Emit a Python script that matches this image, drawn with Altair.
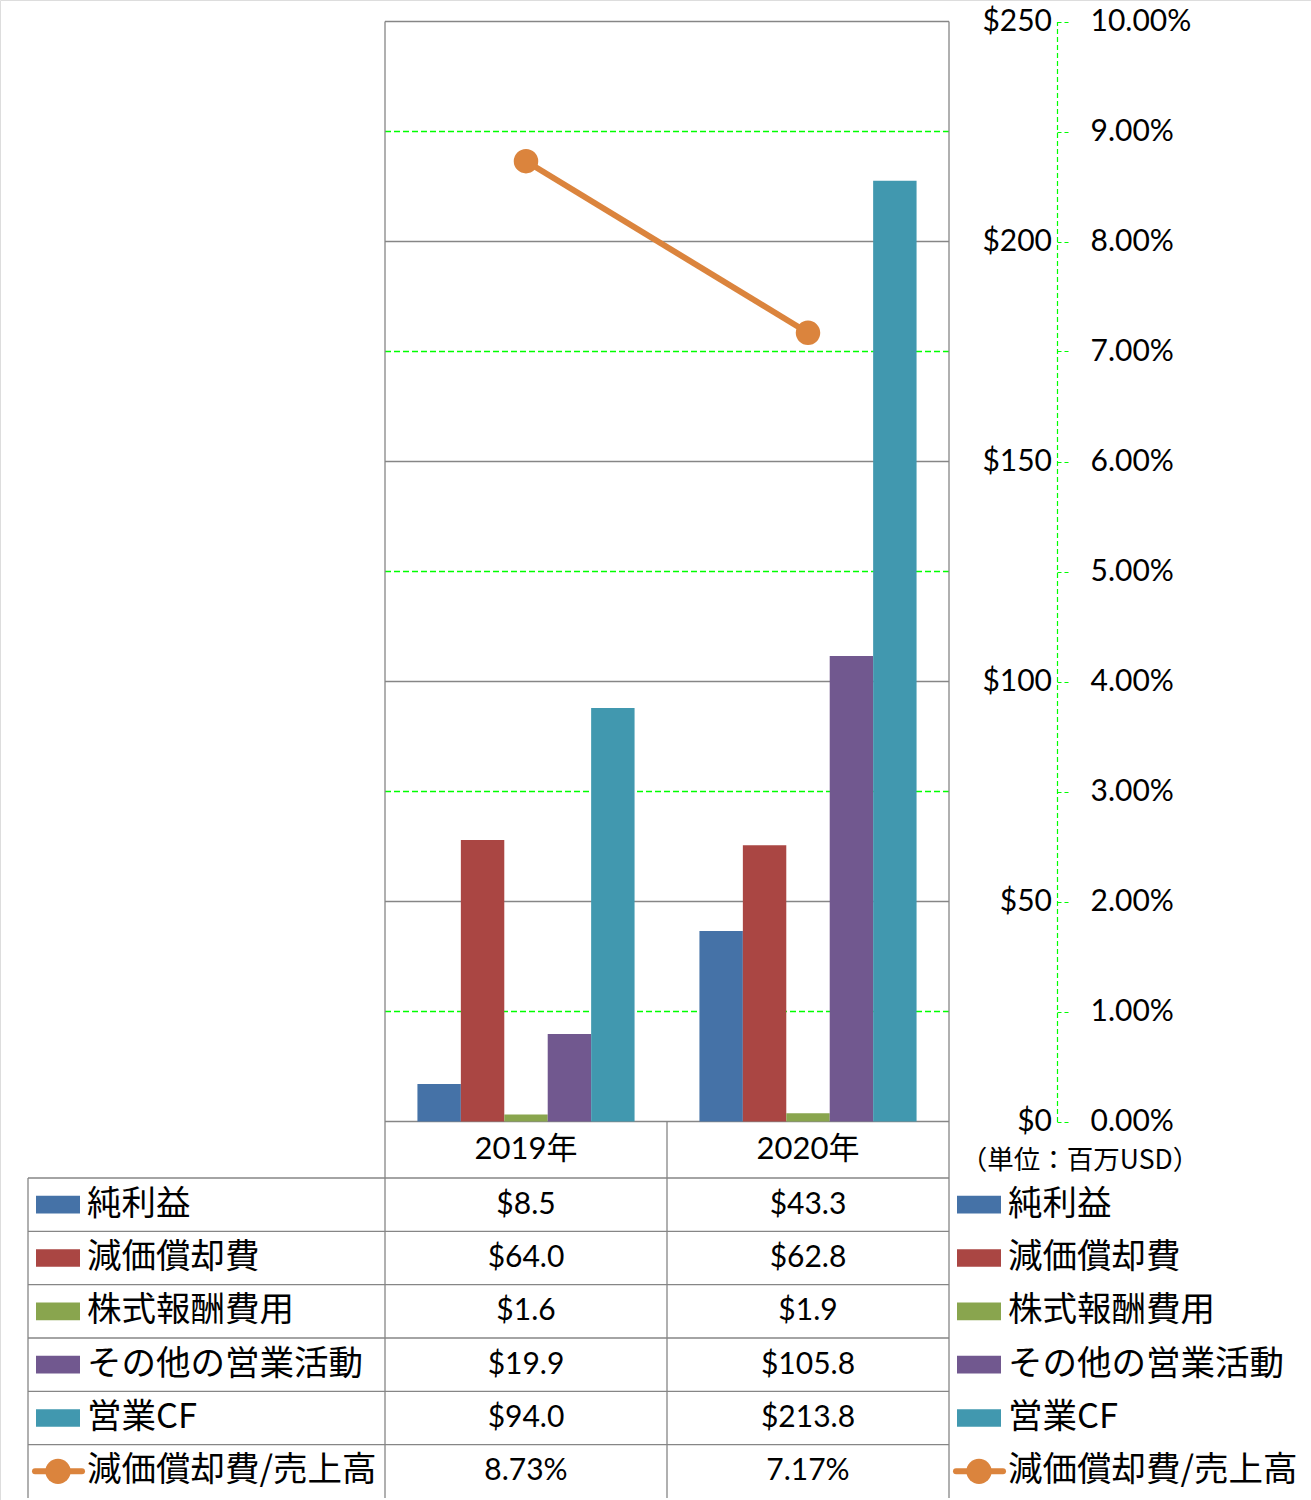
import altair as alt
import pandas as pd

# ---------------- data ----------------
years = ["2019年", "2020年"]
series = ["純利益", "減価償却費", "株式報酬費用", "その他の営業活動", "営業CF"]
net_income = [8.5, 43.3]
depreciation = [64.0, 62.8]
stock_comp = [1.6, 1.9]
other_operating = [19.9, 105.8]
operating_cf = [94.0, 213.8]
ratio_name = "減価償却費/売上高"
dep_to_sales = [0.0873, 0.0717]
usd_ticks = [0, 50, 100, 150, 200, 250]
pct_ticks = [0.0, 0.01, 0.02, 0.03, 0.04, 0.05, 0.06, 0.07, 0.08, 0.09, 0.10]
pct_grid = [0.01, 0.03, 0.05, 0.07, 0.09]
unit_text = "（単位：百万USD）"

# ---------------- style ----------------
bar_colors = ["#4572A7", "#AA4643", "#89A54E", "#71588F", "#4198AF"]
line_color = "#DB843D"
grid_gray = "#868686"
grid_green = "#00FF00"
FONT_NUM = "Lato, Noto Sans CJK JP"
FONT_JP = "Noto Sans CJK JP"

W, H = 1311, 1500
PLOT_L, PLOT_R, PLOT_T, PLOT_B = 385, 949, 21.5, 1121.5
TABLE_L, COL_MID, TABLE_T, TABLE_B = 28, 667, 1178, 1498
AXIS_X = 1057

# ---------------- tables ----------------
values_by_series = [net_income, depreciation, stock_comp, other_operating, operating_cf]
bar_rows = []
table_rows = []
for s, vals in zip(series, values_by_series):
    for y, v in zip(years, vals):
        bar_rows.append({"series": s, "year": y, "value": v})
        table_rows.append({"row": s, "year": y, "label": f"${v:.1f}"})
for y, v in zip(years, dep_to_sales):
    table_rows.append({"row": ratio_name, "year": y, "label": f"{v * 100:.2f}%"})
bar_df = pd.DataFrame(bar_rows)
table_df = pd.DataFrame(table_rows)
line_df = pd.DataFrame({"year": years, "ratio": dep_to_sales})
rows = series + [ratio_name]
rows_df = pd.DataFrame({"row": rows})
bar_legend_df = pd.DataFrame({"row": series})
ratio_legend_df = pd.DataFrame({"row": [ratio_name]})
years_df = pd.DataFrame({"year": years})
one_df = pd.DataFrame({"k": [0]})

# ---------------- scales ----------------
X_SCALE = alt.Scale(type="band", domain=years, range=[PLOT_L, PLOT_R],
                    paddingInner=0.23, paddingOuter=0.115)
Y_USD = alt.Scale(domain=[0, 250], range=[PLOT_B, PLOT_T], nice=False, zero=True)
Y_PCT = alt.Scale(domain=[0, 0.10], range=[PLOT_B, PLOT_T], nice=False, zero=True)
Y_ROW = alt.Scale(type="band", domain=rows, range=[TABLE_T, TABLE_B],
                  paddingInner=0, paddingOuter=0)
COLOR = alt.Scale(domain=series, range=bar_colors)

PCT_AXIS = alt.Axis(orient="right", offset=AXIS_X - W, values=pct_ticks, format=".2%",
                    grid=False, domain=True, domainColor=grid_green, domainDash=[5, 3],
                    domainWidth=1.2, ticks=True, tickColor=grid_green, tickDash=[4, 3],
                    tickSize=11, tickWidth=1.2, labelPadding=22, labelFont="Lato",
                    labelFontSize=30, labelColor="black", labelAlign="left",
                    labelOverlap=False, title=None)

# ---------------- plot layers ----------------
grid_pct_layer = alt.Chart(pd.DataFrame({"v": pct_grid})).mark_rule(
    color=grid_green, strokeWidth=1.5, strokeDash=[6, 3]
).encode(
    y=alt.Y("v:Q", scale=Y_PCT, axis=PCT_AXIS),
    x=alt.value(PLOT_L), x2=alt.value(PLOT_R),
)

grid_usd = alt.Chart(pd.DataFrame({"v": usd_ticks})).mark_rule(
    color=grid_gray, strokeWidth=1.3
).encode(
    y=alt.Y("v:Q", scale=Y_USD, axis=None),
    x=alt.value(PLOT_L), x2=alt.value(PLOT_R),
)

usd_labels = alt.Chart(pd.DataFrame({"v": usd_ticks})).transform_calculate(
    lbl="'$' + datum.v"
).mark_text(font="Lato", fontSize=30, color="black", align="right", baseline="middle").encode(
    y=alt.Y("v:Q", scale=Y_USD, axis=None),
    x=alt.value(AXIS_X - 5),
    text="lbl:N",
)

bars = alt.Chart(bar_df).mark_bar().encode(
    x=alt.X("year:N", scale=X_SCALE, axis=None),
    xOffset=alt.XOffset("series:N", scale=alt.Scale(domain=series, paddingInner=0, paddingOuter=0)),
    y=alt.Y("value:Q", scale=Y_USD, axis=None),
    color=alt.Color("series:N", scale=COLOR, legend=None),
)
usd_layer = alt.layer(grid_usd, bars, usd_labels)

ratio_line = alt.Chart(line_df).mark_line(color=line_color, strokeWidth=6).encode(
    x=alt.X("year:N", scale=X_SCALE, axis=None, bandPosition=0.5),
    y=alt.Y("ratio:Q", scale=Y_PCT, axis=None),
)
ratio_pts = alt.Chart(line_df).mark_circle(color=line_color, size=600, opacity=1).encode(
    x=alt.X("year:N", scale=X_SCALE, axis=None, bandPosition=0.5),
    y=alt.Y("ratio:Q", scale=Y_PCT, axis=None),
)
line_layer = alt.layer(ratio_line, ratio_pts)

# ---------------- data table ----------------
row_lines = alt.Chart(rows_df).mark_rule(color=grid_gray, strokeWidth=1.3).encode(
    y=alt.Y("row:N", scale=Y_ROW, axis=None, bandPosition=0),
    x=alt.value(TABLE_L), x2=alt.value(PLOT_R),
)

def vline(x, y1, y2):
    return alt.Chart(one_df).mark_rule(color=grid_gray, strokeWidth=1.3).encode(
        x=alt.value(x), y=alt.value(y1), y2=alt.value(y2))

vlines = [vline(PLOT_L, PLOT_T, TABLE_B), vline(PLOT_R, PLOT_T, TABLE_B),
          vline(COL_MID, PLOT_B, TABLE_B), vline(TABLE_L, TABLE_T, TABLE_B)]

header = alt.Chart(years_df).mark_text(font=FONT_NUM, fontSize=31, color="black",
                                       baseline="middle", align="center").encode(
    x=alt.X("year:N", scale=X_SCALE, axis=None, bandPosition=0.5),
    y=alt.value(1150),
    text="year:N",
)

cells = alt.Chart(table_df).mark_text(font=FONT_NUM, fontSize=30, color="black",
                                      baseline="middle", align="center").encode(
    x=alt.X("year:N", scale=X_SCALE, axis=None, bandPosition=0.5),
    y=alt.Y("row:N", scale=Y_ROW, axis=None, bandPosition=0.5),
    text="label:N",
)

RECT_PATH = "M-1,-0.4L1,-0.4L1,0.4L-1,0.4Z"

def legend_column(cx, text_x):
    swatch = alt.Chart(bar_legend_df).mark_point(
        shape=RECT_PATH, filled=True, size=1936, opacity=1, strokeWidth=0
    ).encode(
        x=alt.value(cx),
        y=alt.Y("row:N", scale=Y_ROW, axis=None, bandPosition=0.5),
        color=alt.Color("row:N", scale=COLOR, legend=None),
    )
    ln = alt.Chart(ratio_legend_df).mark_rule(color=line_color, strokeWidth=6, strokeCap="round").encode(
        x=alt.value(cx - 23), x2=alt.value(cx + 24),
        y=alt.Y("row:N", scale=Y_ROW, axis=None, bandPosition=0.5),
    )
    dot = alt.Chart(ratio_legend_df).mark_circle(color=line_color, size=640, opacity=1).encode(
        x=alt.value(cx),
        y=alt.Y("row:N", scale=Y_ROW, axis=None, bandPosition=0.5),
    )
    txt = alt.Chart(rows_df).mark_text(font=FONT_JP, fontSize=34.5, color="black",
                                       baseline="middle", align="left").encode(
        x=alt.value(text_x),
        y=alt.Y("row:N", scale=Y_ROW, axis=None, bandPosition=0.5),
        text="row:N",
    )
    return [swatch, ln, dot, txt]

unit = alt.Chart(one_df).mark_text(font=FONT_JP, fontSize=26.5, color="black",
                                   baseline="middle", align="center").encode(
    x=alt.value(1080), y=alt.value(1161), text=alt.value(unit_text))

table_layer = alt.layer(row_lines, *vlines, header, cells,
                        *legend_column(58, 87), *legend_column(979, 1008), unit)

chart = alt.layer(grid_pct_layer, usd_layer, line_layer, table_layer).resolve_scale(
    y="independent"
).properties(
    width=W, height=H, padding=0, autosize=alt.AutoSizeParams(type="none")
).configure_view(stroke=grid_gray, strokeWidth=4).configure(background="white")

chart.save("out.html", embed_options={"renderer": "svg", "actions": False})
